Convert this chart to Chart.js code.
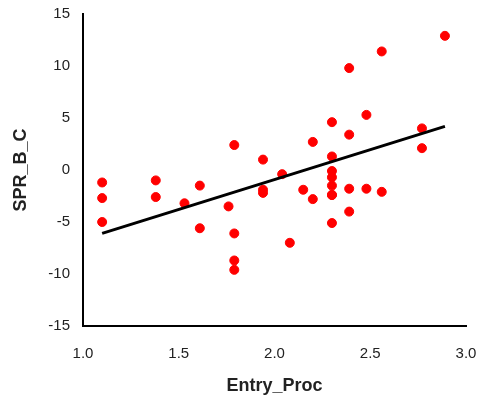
<!DOCTYPE html>
<html>
<head>
<meta charset="utf-8">
<script src="https://cdn.jsdelivr.net/npm/chart.js@4.4.1/dist/chart.umd.min.js"></script>
<style>
  html, body { margin: 0; padding: 0; background: #fff; }
  #wrap { width: 484px; height: 397px; }
</style>
</head>
<body>
<div id="wrap"><canvas id="scatterChart" width="484" height="397"></canvas></div>
<script>
// Data
const entryProc = [
    1.10, 1.10, 1.10, 1.38, 1.38, 1.53, 1.61, 1.61, 1.76, 1.79,
    1.79, 1.79, 1.79, 1.94, 1.94, 1.94, 2.04, 2.08, 2.15, 2.20,
    2.20, 2.30, 2.30, 2.30, 2.30, 2.30, 2.30, 2.30, 2.30, 2.39,
    2.39, 2.39, 2.39, 2.48, 2.48, 2.56, 2.56, 2.77, 2.77, 2.89
];
const sprBC = [
    -1.2, -2.7, -5.0, -1.0, -2.6, -3.2, -1.5, -5.6, -3.5, 2.4,
    -6.1, -8.7, -9.6, 1.0, -1.9, -2.2, -0.4, -7.0, -1.9, 2.7,
    -2.8, 4.6, 1.3, -0.1, -0.7, -1.5, -2.4, -2.4, -5.1, 9.8,
    3.4, -1.8, -4.0, 5.3, -1.8, 11.4, -2.1, 4.0, 2.1, 12.9
];
// Linear trend line end points
const trendX = [1.10, 2.89];
const trendY = [-6.1, 4.2];

const xTicks = [1.0, 1.5, 2.0, 2.5, 3.0];
const yTicks = [-15, -10, -5, 0, 5, 10, 15];

const points = entryProc.map((x, i) => ({ x: x, y: sprBC[i] }));
const trend = trendX.map((x, i) => ({ x: x, y: trendY[i] }));

const tickFont = { family: 'Liberation Sans, Arial, sans-serif', size: 15 };
const titleFont = { family: 'Liberation Sans, Arial, sans-serif', size: 18, weight: 'bold' };

new Chart(document.getElementById('scatterChart').getContext('2d'), {
    type: 'scatter',
    data: {
        datasets: [
            {
                label: 'SPR_B_C',
                data: points,
                backgroundColor: '#ff0000',
                borderColor: '#ff0000',
                pointRadius: 4.5,
                pointHoverRadius: 4.5,
                order: 2
            },
            {
                label: 'Linear',
                type: 'line',
                data: trend,
                borderColor: '#000000',
                borderWidth: 3,
                pointRadius: 0,
                fill: false,
                order: 1
            }
        ]
    },
    options: {
        responsive: false,
        animation: false,
        layout: {
            autoPadding: false,
            padding: { top: 14, right: 18, left: 0, bottom: 0 }
        },
        plugins: {
            legend: { display: false },
            tooltip: { enabled: false }
        },
        scales: {
            x: {
                type: 'linear',
                min: 1.0,
                max: 3.0,
                afterBuildTicks: scale => { scale.ticks = xTicks.map(v => ({ value: v })); },
                // fixed box so the plot area lines up with the reference
                afterFit: scale => { scale.height = 71; scale.paddingLeft = 0; scale.paddingRight = 0; },
                grid: { display: false, drawTicks: false },
                border: { display: true, color: '#000', width: 2 },
                ticks: {
                    color: '#222',
                    font: tickFont,
                    padding: 19,
                    callback: v => v.toFixed(1)
                },
                title: {
                    display: true,
                    text: 'Entry_Proc',
                    color: '#222',
                    font: titleFont,
                    padding: { top: 10, bottom: 0 }
                }
            },
            y: {
                type: 'linear',
                min: -15,
                max: 15,
                afterBuildTicks: scale => { scale.ticks = yTicks.map(v => ({ value: v })); },
                afterFit: scale => { scale.width = 83; scale.paddingTop = 0; scale.paddingBottom = 0; },
                grid: { display: false, drawTicks: false },
                border: { display: true, color: '#000', width: 2 },
                ticks: {
                    color: '#222',
                    font: tickFont,
                    padding: 13
                },
                title: {
                    display: true,
                    text: 'SPR_B_C',
                    color: '#222',
                    font: titleFont,
                    padding: { top: 10, bottom: 0 }
                }
            }
        }
    }
});
</script>
</body>
</html>
